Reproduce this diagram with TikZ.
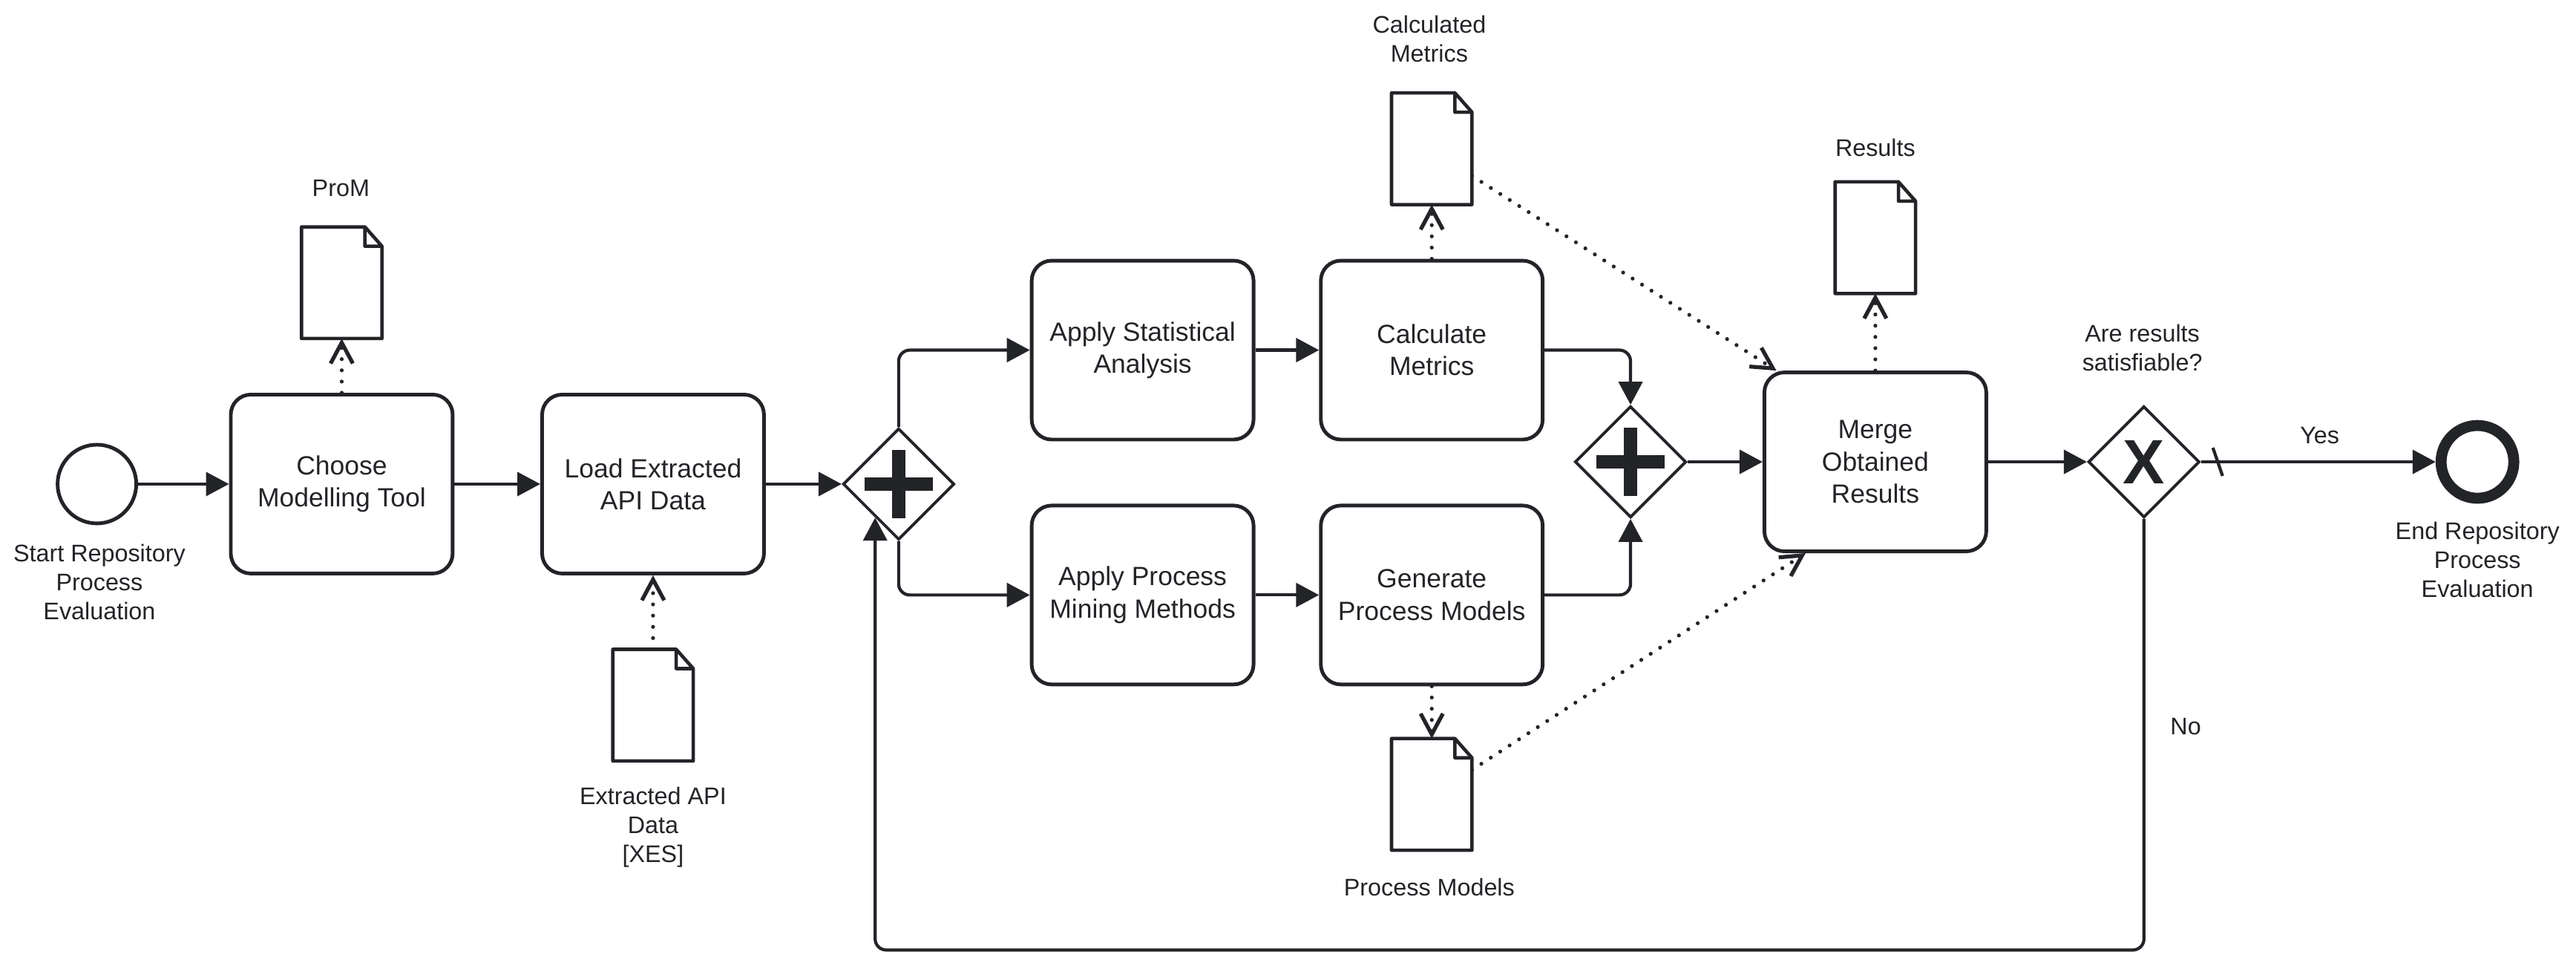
\documentclass[tikz,border=0pt]{standalone}
\usepackage{fontspec}
\setmainfont{Liberation Sans}
\usepackage{tikz}
\usetikzlibrary{arrows.meta}
\usetikzlibrary{shapes.geometric}
\definecolor{ink}{RGB}{35,36,40}

\begin{document}
\begin{tikzpicture}[x=0.022136cm, y=-0.022136cm, color=ink,
    task/.style={draw, line width=1.4pt, rounded corners=0.27cm, minimum width=2.99cm, minimum height=2.41cm, align=center, font=\fontsize{10.1}{12.3}\selectfont},
    gate/.style={draw, diamond, line width=1.1pt, minimum width=1.5cm, minimum height=1.5cm, inner sep=0pt},
    startEv/.style={draw, circle, line width=1.4pt, minimum size=1.06cm, inner sep=0pt},
    endEv/.style={draw, circle, line width=4.2pt, minimum size=0.98cm, inner sep=0pt},
    docu/.style={minimum width=1.07cm, minimum height=1.49cm, inner sep=0pt},
    docline/.style={draw, line width=1.3pt, line join=round},
    lbl/.style={align=center, font=\fontsize{9.2}{11.1}\selectfont},
    flow/.style={draw, line width=1.2pt, rounded corners=0.15cm, -{Triangle[length=0.31cm, width=0.32cm]}},
    assoc/.style={draw, line width=1.5pt, line cap=round, dash pattern=on 0pt off 4.3pt, -{Straight Barb[length=0.28cm, width=0.3cm]}},
    plusbar/.style={line width=5pt}]
  \useasboundingbox (0,0) rectangle (1568,585.47);
  % events
  \node[startEv] (startEvent) at (59,294.5) {};
  \node[endEv] (endEvent) at (1508,281) {};
  % tasks
  \node[task] (chooseTask) at (208,294.5) {Choose\\Modelling Tool};
  \node[task] (loadTask) at (397.5,294.5) {Load Extracted\\API Data};
  \node[task] (statTask) at (695.5,213) {Apply Statistical\\Analysis};
  \node[task] (metricTask) at (871.5,213) {Calculate\\Metrics};
  \node[task] (miningTask) at (695.5,362) {Apply Process\\Mining Methods};
  \node[task] (modelTask) at (871.5,362) {Generate\\Process Models};
  \node[task] (mergeTask) at (1141.5,281) {Merge\\Obtained\\Results};
  % gateways
  \node[gate] (splitGate) at (547,294.5) {};
  \node[gate] (joinGate) at (992.5,281) {};
  \node[gate, font=\fontsize{24}{24}\selectfont\bfseries] (xorGate) at (1305,281) {X};
  \draw[plusbar] ([xshift=-0.46cm]splitGate.center) -- ([xshift=0.46cm]splitGate.center)
    ([yshift=-0.46cm]splitGate.center) -- ([yshift=0.46cm]splitGate.center);
  \draw[plusbar] ([xshift=-0.46cm]joinGate.center) -- ([xshift=0.46cm]joinGate.center)
    ([yshift=-0.46cm]joinGate.center) -- ([yshift=0.46cm]joinGate.center);
  % data objects
  \node[docu] (promDoc) at (208,172) {};
  \node[docu] (apiDoc) at (397.5,429) {};
  \node[docu] (metricsDoc) at (871.5,90.5) {};
  \node[docu] (modelsDoc) at (871.5,483.3) {};
  \node[docu] (resultsDoc) at (1141.5,144.6) {};
  \draw[docline] (promDoc.north west) -- ([xshift=-0.23cm]promDoc.north east) -- ([yshift=-0.26cm]promDoc.north east) -- (promDoc.south east) -- (promDoc.south west) -- cycle ([xshift=-0.23cm]promDoc.north east) |- ([yshift=-0.26cm]promDoc.north east);
  \draw[docline] (apiDoc.north west) -- ([xshift=-0.23cm]apiDoc.north east) -- ([yshift=-0.26cm]apiDoc.north east) -- (apiDoc.south east) -- (apiDoc.south west) -- cycle ([xshift=-0.23cm]apiDoc.north east) |- ([yshift=-0.26cm]apiDoc.north east);
  \draw[docline] (metricsDoc.north west) -- ([xshift=-0.23cm]metricsDoc.north east) -- ([yshift=-0.26cm]metricsDoc.north east) -- (metricsDoc.south east) -- (metricsDoc.south west) -- cycle ([xshift=-0.23cm]metricsDoc.north east) |- ([yshift=-0.26cm]metricsDoc.north east);
  \draw[docline] (modelsDoc.north west) -- ([xshift=-0.23cm]modelsDoc.north east) -- ([yshift=-0.26cm]modelsDoc.north east) -- (modelsDoc.south east) -- (modelsDoc.south west) -- cycle ([xshift=-0.23cm]modelsDoc.north east) |- ([yshift=-0.26cm]modelsDoc.north east);
  \draw[docline] (resultsDoc.north west) -- ([xshift=-0.23cm]resultsDoc.north east) -- ([yshift=-0.26cm]resultsDoc.north east) -- (resultsDoc.south east) -- (resultsDoc.south west) -- cycle ([xshift=-0.23cm]resultsDoc.north east) |- ([yshift=-0.26cm]resultsDoc.north east);
  % labels
  \node[lbl] (startLabel) at (60.5,354) {Start Repository\\Process\\Evaluation};
  \node[lbl] (endLabel) at (1508,340.5) {End Repository\\Process\\Evaluation};
  \node[lbl] (promLabel) at (207.5,114.4) {ProM};
  \node[lbl] (apiLabel) at (397.5,503.5) {Extracted API\\Data\\{[XES]}};
  \node[lbl] (metricsLabel) at (870,23.8) {Calculated\\Metrics};
  \node[lbl] (modelsLabel) at (870,539.7) {Process Models};
  \node[lbl] (resultsLabel) at (1141.5,90) {Results};
  \node[lbl] (xorLabel) at (1304,211.5) {Are results\\satisfiable?};
  \node[lbl] (yesLabel) at (1412,265) {Yes};
  \node[lbl] (noLabel) at (1330.4,441.9) {No};
  % sequence flows
  \draw[flow] (startEvent) -- (chooseTask);
  \draw[flow] (chooseTask) -- (loadTask);
  \draw[flow] (loadTask) -- (splitGate);
  \draw[flow] (splitGate.north) |- (statTask.west);
  \draw[flow] (splitGate.south) |- (miningTask.west);
  \draw[flow] (statTask) -- (metricTask);
  \draw[flow] (miningTask) -- (modelTask);
  \draw[flow] (metricTask.east) -| (joinGate.north);
  \draw[flow] (modelTask.east) -| (joinGate.south);
  \draw[flow] (joinGate) -- (mergeTask);
  \draw[flow] (mergeTask) -- (xorGate);
  \draw[flow] (xorGate.east) -- (endEvent.west);
  \draw[line width=1.2pt] ([xshift=0.16cm, yshift=0.19cm]xorGate.east) -- ([xshift=0.29cm, yshift=-0.19cm]xorGate.east);
  %loop back
  \coordinate (loopBase) at (0,578);
  \coordinate (loopLeft) at (splitGate.235 |- loopBase);
  \draw[flow] (xorGate.south) |- (loopLeft) -- (splitGate.235);
  % associations
  \draw[assoc] (chooseTask.north) -- (promDoc.south);
  \draw[assoc] (apiDoc.north) -- (loadTask.south);
  \draw[assoc] (metricTask.north) -- (metricsDoc.south);
  \draw[assoc] (modelTask.south) -- (modelsDoc.north);
  \draw[assoc] (mergeTask.north) -- (resultsDoc.south);
  \draw[assoc] ([yshift=-0.365cm]metricsDoc.east) -- ([xshift=0.186cm]mergeTask.north west);
  \draw[assoc] ([yshift=0.33cm]modelsDoc.east) -- ([xshift=0.58cm]mergeTask.south west);
\end{tikzpicture}
\end{document}
